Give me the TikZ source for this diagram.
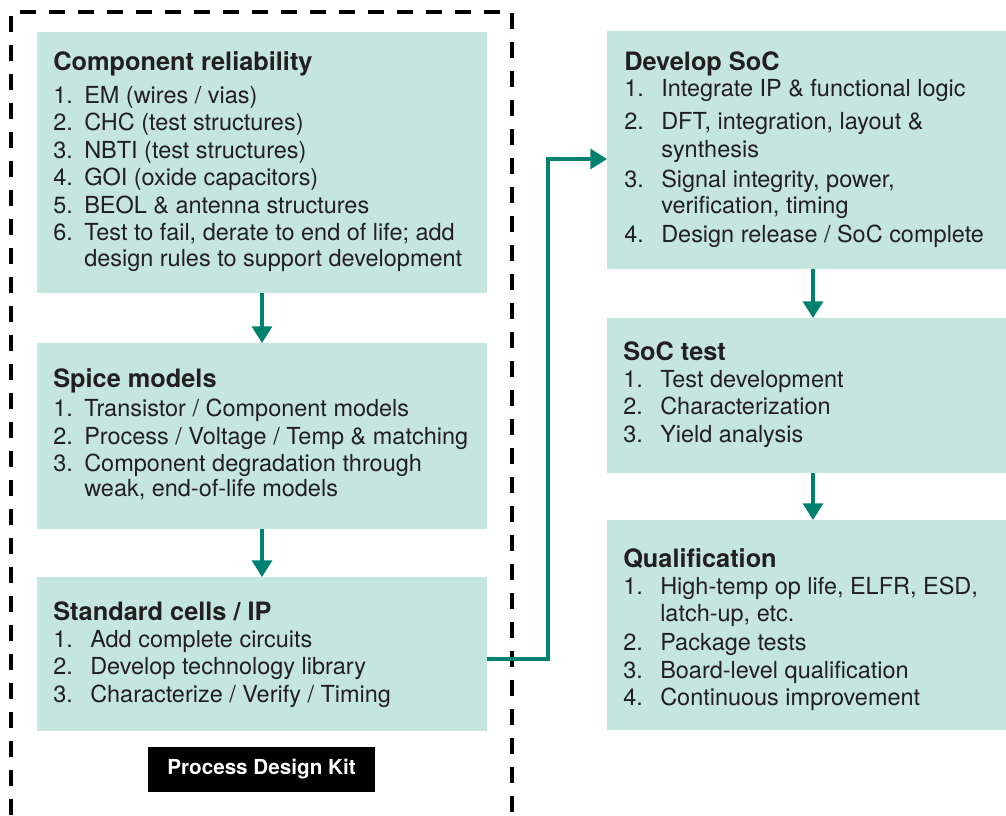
\documentclass[tikz,border=0pt]{standalone}
\usepackage{fontspec}
\setmainfont{TeX Gyre Heros}
\usetikzlibrary{arrows.meta}

\definecolor{boxfill}{RGB}{196,230,223}
\definecolor{flowteal}{RGB}{0,128,111}
\definecolor{inkdark}{RGB}{35,31,32}

\newcommand{\stepfont}{\fontsize{17.6}{20.6}\selectfont}
\newcommand{\headfont}{\fontsize{19}{20.6}\selectfont\bfseries}

\tikzset{
  stagebox/.style={fill=boxfill, inner sep=0pt, outer sep=0pt},
  stagetext/.style={anchor=base west, inner sep=0pt, text=inkdark, font=\stepfont},
  flow/.style={draw=flowteal, line width=2.4pt, -{Triangle[width=15pt,length=12.5pt]}},
  kitframe/.style={line width=2.5pt, dash pattern=on 12pt off 9.75pt},
}

\begin{document}
\begin{tikzpicture}[x=0.75pt,y=0.75pt,yscale=-1,xscale=1]
\useasboundingbox (0,0) rectangle (1006,815);
\clip (0,0) rectangle (1006,815);

%Dashed frame (open at the bottom)
\draw [kitframe] (11,815) -- (11,12) -- (512,12) -- (512,815) ;

%Boxes
\node [stagebox, minimum width=337.5pt, minimum height=195.75pt] (rel) at (262,162.5) {};
\node [stagebox, minimum width=337.5pt, minimum height=139.5pt] (spice) at (262,436) {};
\node [stagebox, minimum width=337.5pt, minimum height=115.5pt] (cells) at (262,654) {};
\node [stagebox, minimum width=309pt, minimum height=178.5pt] (dev) at (813,150) {};
\node [stagebox, minimum width=309pt, minimum height=116.25pt] (soctest) at (813,395.5) {};
\node [stagebox, minimum width=309pt, minimum height=157.5pt] (qual) at (813,625) {};

% Kit label
\node [fill=black, text=white, inner sep=0pt, minimum width=170.25pt, minimum height=33.75pt,
  font=\fontsize{15.5}{18}\selectfont\bfseries] (pdk) at (261.5,769.5) {Process Design Kit};

% Text Node
\node [stagetext] (relText) at (53,70.5) {\begin{tabular}[t]{@{}p{23.25pt}@{}l@{}}
  \multicolumn{2}{@{}l@{}}{\headfont Component reliability}\\[4pt]
  1. & EM (wires / vias)\\
  2. & CHC (test structures)\\
  3. & NBTI (test structures)\\
  4. & GOI (oxide capacitors)\\
  5. & BEOL \& antenna structures\\
  6. & Test to fail, derate to end of life; add\\[-1.5pt]
     & design rules to support development
\end{tabular}};
% Text Node
\node [stagetext] (spiceText) at (53,387) {\begin{tabular}[t]{@{}p{23.25pt}@{}l@{}}
  \multicolumn{2}{@{}l@{}}{\headfont Spice models}\\[1.8pt]
  1. & Transistor / Component models\\
  2. & Process / Voltage / Temp \& matching\\
  3. & Component degradation through\\[-1.8pt]
     & weak, end-of-life models
\end{tabular}};
% Text Node
\node [stagetext] (cellsText) at (53,620) {\begin{tabular}[t]{@{}p{27.75pt}@{}l@{}}
  \multicolumn{2}{@{}l@{}}{\headfont Standard cells / IP}\\
  1. & Add complete circuits\\
  2. & Develop technology library\\
  3. & Characterize / Verify / Timing
\end{tabular}};
% Text Node
\node [stagetext] (devText) at (624,70) {\begin{tabular}[t]{@{}p{27.75pt}@{}l@{}}
  \multicolumn{2}{@{}l@{}}{\headfont Develop SoC}\\[-0.5pt]
  1. & Integrate IP \& functional logic\\[4.2pt]
  2. & DFT, integration, layout \&\\
     & synthesis\\[2pt]
  3. & Signal integrity, power,\\[-1pt]
     & verification, timing\\[1.2pt]
  4. & Design release / SoC complete
\end{tabular}};
% Text Node
\node [stagetext] (soctestText) at (623,360) {\begin{tabular}[t]{@{}p{27.75pt}@{}l@{}}
  \multicolumn{2}{@{}l@{}}{\headfont SoC test}\\
  1. & Test development\\
  2. & Characterization\\
  3. & Yield analysis
\end{tabular}};
% Text Node
\node [stagetext] (qualText) at (623,567) {\begin{tabular}[t]{@{}p{27.75pt}@{}l@{}}
  \multicolumn{2}{@{}l@{}}{\headfont Qualification}\\
  1. & High-temp op life, ELFR, ESD,\\
     & latch-up, etc.\\[1pt]
  2. & Package tests\\
  3. & Board-level qualification\\
  4. & Continuous improvement
\end{tabular}};

%Flow arrows
\draw [flow] (rel.south) -- (spice.north) ;
\draw [flow] (spice.south) -- (cells.north) ;
\draw [flow] (dev.south) -- (soctest.north) ;
\draw [flow] (soctest.south) -- (qual.north) ;
\coordinate (bend) at (548,159) ;
\draw [flow] ([shift={(0,5)}]cells.east) -| (bend) -- (bend -| dev.west) ;

\end{tikzpicture}
\end{document}
